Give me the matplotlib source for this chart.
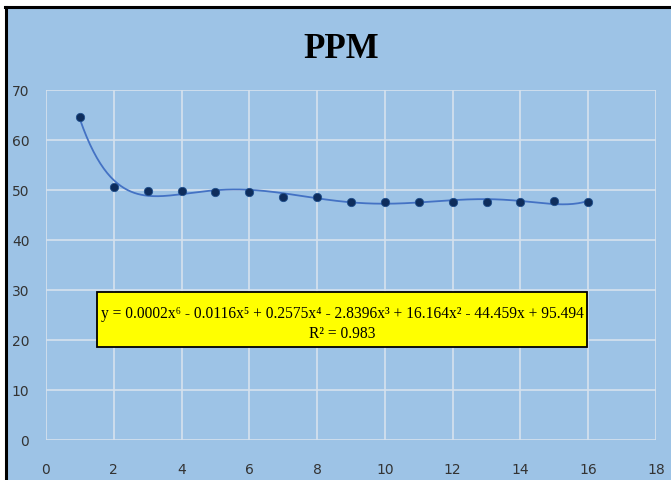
import matplotlib.pyplot as plt
import numpy as np
from matplotlib.patches import Rectangle

# data
day = [1, 2, 3, 4, 5, 6, 7, 8, 9, 10, 11, 12, 13, 14, 15, 16]
ppm = [64.6, 50.6, 49.8, 49.8, 49.7, 49.7, 48.7, 48.6,
       47.7, 47.7, 47.7, 47.7, 47.7, 47.7, 47.8, 47.6]
x_ticks = [0, 2, 4, 6, 8, 10, 12, 14, 16, 18]
y_ticks = [0, 10, 20, 30, 40, 50, 60, 70]
eq_text = ("y = 0.0002x\u2076 - 0.0116x\u2075 + 0.2575x\u2074 - 2.8396x\u00b3 "
           "+ 16.164x\u00b2 - 44.459x + 95.494\nR\u00b2 = 0.983")

bg = "#9DC3E6"
W, H = 671, 481
fig = plt.figure(figsize=(W / 100, H / 100), dpi=100)
fig.patch.set_facecolor(bg)

# white margin on top/left, then the black frame lines
fig.patches.append(Rectangle((0, 1 - 7 / H), 1, 7 / H, transform=fig.transFigure,
                             facecolor="white", edgecolor="none"))
fig.patches.append(Rectangle((0, 0), 5 / W, 1, transform=fig.transFigure,
                             facecolor="white", edgecolor="none"))
fig.add_artist(plt.Line2D([6 / W, 6 / W], [0, 1 - 8 / H], color="black", lw=2.2,
                          transform=fig.transFigure))
fig.add_artist(plt.Line2D([5 / W, 1], [1 - 8 / H, 1 - 8 / H], color="black", lw=2.2,
                          transform=fig.transFigure))

ax = fig.add_axes([46 / W, 1 - 441 / H, 610 / W, 350 / H])
ax.set_facecolor(bg)

# 6th order polynomial trendline
coef = np.polyfit(day, ppm, 6)
xs = np.linspace(min(day), max(day), 300)
ax.plot(xs, np.polyval(coef, xs), color="#4472C4", lw=1.3, zorder=3)
ax.plot(day, ppm, "o", color="#0E2D5C", ms=6, mec="#1F4E8C", mew=0.6, zorder=4)

ax.set_xlim(0, 18)
ax.set_ylim(0, 70)
ax.set_xticks(x_ticks)
ax.set_yticks(y_ticks)
ax.grid(True, color="#D6E2EE", lw=1.2)
ax.set_axisbelow(True)
for s in ax.spines.values():
    s.set_visible(False)
ax.tick_params(length=0, labelsize=10, colors="#333333")
ax.tick_params(axis="y", pad=12)
ax.tick_params(axis="x", pad=16)
for lab in ax.get_xticklabels() + ax.get_yticklabels():
    lab.set_family(["Liberation Sans Narrow", "DejaVu Sans"])

fig.text(341 / W, 1 - 50 / H, "PPM", ha="center", va="center",
         fontsize=25, fontweight="bold", family=["Liberation Serif", "DejaVu Serif"])

# trendline equation box
fig.patches.append(Rectangle((97 / W, 1 - 348 / H), 490 / W, 55 / H, transform=fig.transFigure,
                             facecolor="#FFFF00", edgecolor="black", lw=1.3, zorder=5))
fig.text(342 / W, 1 - 324 / H, eq_text, ha="center", va="center", zorder=6,
         fontsize=11.2, family=["Liberation Serif", "DejaVu Serif"], linespacing=1.3)

fig.savefig("out.png", dpi=100)
